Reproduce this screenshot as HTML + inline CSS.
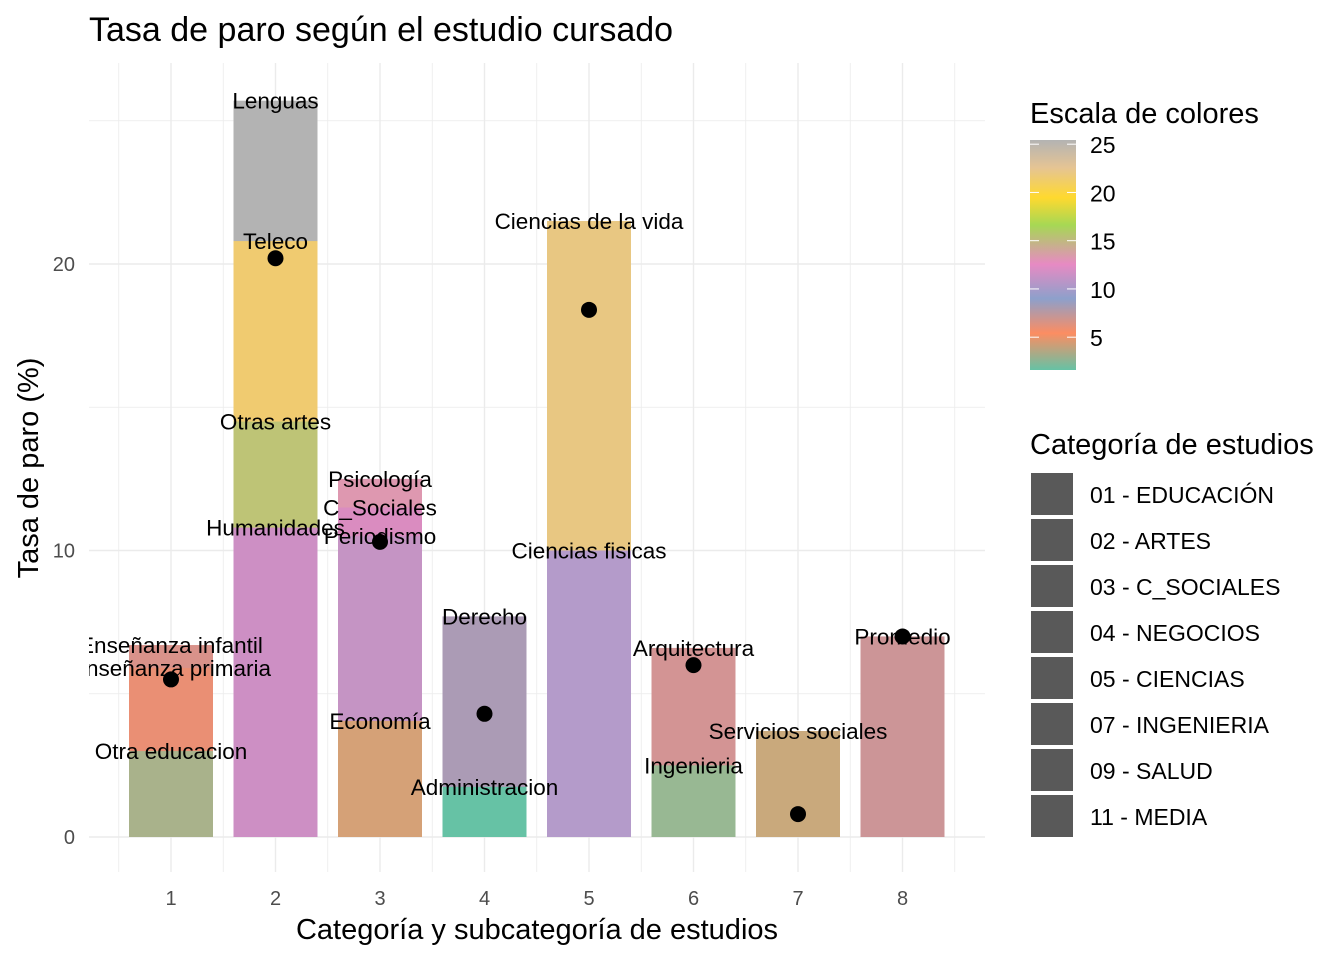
<!DOCTYPE html>
<html><head><meta charset="utf-8"><style>
body{margin:0;background:#fff}
svg{font-family:"Liberation Sans",Arial,sans-serif}
</style></head><body>
<svg id="c" width="1344" height="960" viewBox="0 0 1344 960">
<defs><clipPath id="pc"><rect x="89" y="60" width="897" height="815"/></clipPath>
<linearGradient id="cb" x1="0" y1="1" x2="0" y2="0">
<stop offset="0" stop-color="#66c2a5"/><stop offset="0.16" stop-color="#fc8d62"/><stop offset="0.31" stop-color="#8da0cb"/><stop offset="0.46" stop-color="#e78ac3"/><stop offset="0.63" stop-color="#a6d854"/><stop offset="0.75" stop-color="#ffd92f"/><stop offset="0.88" stop-color="#e5c494"/><stop offset="1" stop-color="#b3b3b3"/></linearGradient></defs>
<text x="89" y="41" font-size="34" fill="#000">Tasa de paro según el estudio cursado</text>
<g id="grid"></g><g id="bars"></g><g id="labels" clip-path="url(#pc)"></g><g id="dots"></g><g id="axes"></g>
<text x="537" y="939" font-size="29" text-anchor="middle">Categoría y subcategoría de estudios</text>
<text transform="translate(38,468) rotate(-90)" font-size="29" text-anchor="middle">Tasa de paro (%)</text>
<text x="1030" y="123" font-size="29">Escala de colores</text>
<rect x="1030" y="140" width="46" height="230" fill="url(#cb)"/>
<g id="cbt"></g>
<text x="1030" y="454" font-size="29">Categoría de estudios</text>
<g id="leg"></g>
</svg>
<script>
const categories=[1,2,3,4,5,6,7,8];
const segNames=[["Enseñanza infantil","Enseñanza primaria","Otra educacion"],["Lenguas","Teleco","Otras artes","Humanidades"],["Psicología","C_Sociales","Periodismo","Economía"],["Derecho","Administracion"],["Ciencias de la vida","Ciencias fisicas"],["Arquitectura","Ingenieria"],["Servicios sociales"],["Promedio"]];
const segValues=[[6.7,5.9,3.0],[25.7,20.8,14.5,10.8],[12.5,11.5,10.5,4.05],[7.7,1.75],[21.5,10.0],[6.6,2.5],[3.7],[7.0]];
const segColors=[["#d9928a","#ea8f74","#a9b28b"],["#b3b3b3","#f0cb70","#bec476","#cd8fc4"],["#de98b0","#da8cc0","#c594c4","#d5a177"],["#ab9bb5","#66c2a5"],["#e8c782","#b49bca"],["#d39494","#98b893"],["#c9a97c"],["#cc9597"]];
const meanValues=[5.5,20.2,10.3,4.3,18.4,6.0,0.8,7.0];
const yTicks=[0,10,20];
const legendItems=["01 - EDUCACIÓN","02 - ARTES","03 - C_SOCIALES","04 - NEGOCIOS","05 - CIENCIAS","07 - INGENIERIA","09 - SALUD","11 - MEDIA"];
const cbTicks=[5,10,15,20,25];
const NS="http://www.w3.org/2000/svg";
const X=c=>171+(c-1)*104.5, Y=v=>837-v*28.65, CB=v=>370-(v-1.6)*9.65;
function el(t,a,p,txt){const e=document.createElementNS(NS,t);for(const k in a)e.setAttribute(k,a[k]);if(txt!=null)e.textContent=txt;document.getElementById(p).appendChild(e);return e;}
for(let v=0;v<=25;v+=5){const g=el('line',{x1:89,x2:985,y1:Y(v),y2:Y(v),stroke:"#ebebeb","stroke-width":v%10===0?1.4:0.8},'grid');

}
for(let c=0.5;c<=8.5;c+=0.5){const g=el('line',{x1:X(c),x2:X(c),y1:63,y2:872,stroke:"#ebebeb","stroke-width":c%1===0?1.4:0.8},'grid');

}
yTicks.forEach(t=>{const e=el('text',{x:75,y:Y(t)+7,"font-size":20,fill:"#4d4d4d","text-anchor":"end"},'axes',t);

});
categories.forEach(c=>{const e=el('text',{x:X(c),y:905,"font-size":20,fill:"#4d4d4d","text-anchor":"middle"},'axes',c);

});
categories.forEach((c,i)=>{
 segValues[i].forEach((v,j)=>{
  const r=el('rect',{x:X(c)-42,y:Y(v),width:84,height:Y(0)-Y(v),fill:segColors[i][j]},'bars');
  
  
  const t=el('text',{x:X(c),y:Y(v)+8,"font-size":22.5,"text-anchor":"middle",fill:"#000"},'labels',segNames[i][j]);
  
  
 });
 const d=el('circle',{cx:X(c),cy:Y(meanValues[i]),r:8,fill:"#000"},'dots');
 
 
});
cbTicks.forEach(t=>{const y=CB(t);
 el('line',{x1:1030,x2:1039,y1:y,y2:y,stroke:"#fff"},'cbt');el('line',{x1:1067,x2:1076,y1:y,y2:y,stroke:"#fff"},'cbt');
 const e=el('text',{x:1090,y:y+9,"font-size":23},'cbt',t);
 
 });
legendItems.forEach((s,i)=>{const y=473+i*46;
 const r=el('rect',{x:1031,y:y,width:42,height:42,fill:"#595959"},'leg');
 
 
 const t=el('text',{x:1090,y:y+30,"font-size":23},'leg',s);
 
 });
</script>
</body></html>
